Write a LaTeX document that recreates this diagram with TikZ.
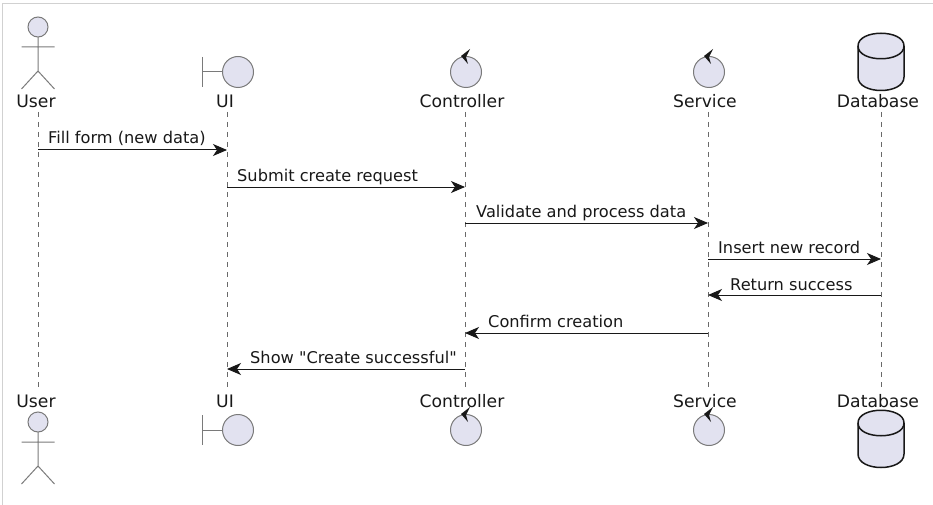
\documentclass[tikz,border=0pt]{standalone}
\usepackage{fontspec}
\setmainfont{DejaVu Sans}[Ligatures=TeXOff]
\usetikzlibrary{arrows.meta}
\definecolor{partfill}{HTML}{E2E2F0}
\definecolor{partline}{HTML}{7A7A7A}
\definecolor{inkline}{HTML}{181818}
\tikzset{
  lifeline/.style={draw=inkline!65, line width=0.5pt, dash pattern=on 5pt off 5pt},
  msg/.style={draw=inkline, line width=1pt, -{Stealth[length=14pt,width=12pt,inset=4pt]}},
  msgtext/.style={anchor=base west, inner sep=0pt, font=\fontsize{16.2}{19}\selectfont, text=inkline},
  parttext/.style={anchor=base, inner sep=0pt, font=\fontsize{17.2}{20}\selectfont, text=inkline},
  partline/.style={draw=partline, line width=1pt},
  ball/.style={circle, draw=partline, fill=partfill, line width=1pt, inner sep=0pt, minimum size=31pt},
  % the glyphs, all drawn around the centre of their figure
  pics/actor/.style={code={
    \draw[partline] (0,10) -- (0,34) (-16.5,20) -- (16.5,20) (-16.5,62) -- (0,44) -- (16.5,62) (0,10) -- (0,44);
    \node[ball, minimum size=20pt] at (0,0) {};
  }},
  pics/boundary/.style={code={
    \draw[partline] (-36,-15) -- (-36,15) (-36,0) -- (-15,0);
    \node[ball] at (0,0) {};
  }},
  pics/control/.style={code={
    \node[ball] at (0,0) {};
    \fill[inkline] (4,-23) -- (-5,-16) -- (2,-8) -- (0,-15) -- cycle;
  }},
  pics/database/.style={code={
    \draw[draw=inkline, fill=partfill, line width=1.5pt] (-23,-15) .. controls (-23,-32) and (23,-32) .. (23,-15)
      -- (23,16) .. controls (23,34) and (-23,34) .. (-23,16) -- cycle;
    \draw[draw=inkline, line width=1.5pt] (-23,-15) .. controls (-23,2) and (23,2) .. (23,-15);
  }},
}
\begin{document}
\begin{tikzpicture}[x=1pt, y=-1pt]
  \useasboundingbox (0,0) rectangle (933,505);
  % frame
  \draw[draw=black!18, line width=1pt] (2.5,505) -- (2.5,3.5) -- (933,3.5);

  % lifeline ends
  \coordinate (user_top) at (38,112);
  \coordinate (user_bot) at (38,390);
  \coordinate (ui_top) at (227,112);
  \coordinate (ui_bot) at (227,390);
  \coordinate (controller_top) at (465,112);
  \coordinate (controller_bot) at (465,390);
  \coordinate (service_top) at (708,112);
  \coordinate (service_bot) at (708,390);
  \coordinate (database_top) at (881,112);
  \coordinate (database_bot) at (881,390);

  \draw[lifeline] (user_top) -- (user_bot);
  \draw[lifeline] (ui_top) -- (ui_bot);
  \draw[lifeline] (controller_top) -- (controller_bot);
  \draw[lifeline] (service_top) -- (service_bot);
  \draw[lifeline] (database_top) -- (database_bot);

  % participants, top row
  \pic at (38,27) {actor};
  \pic at (238,72) {boundary};
  \pic at (466,72) {control};
  \pic at (709,72) {control};
  \pic at (881,61) {database};
  \node[parttext] (user_label) at (36,108) {User};
  \node[parttext] (ui_label) at (225,108) {UI};
  \node[parttext] (controller_label) at (462,108) {Controller};
  \node[parttext] (service_label) at (705,108) {Service};
  \node[parttext] (database_label) at (878,108) {Database};

  % participants, bottom row
  \pic at (38,422) {actor};
  \pic at (238,430) {boundary};
  \pic at (466,430) {control};
  \pic at (709,430) {control};
  \pic at (881,438) {database};
  \node[parttext] (user_label2) at (36,407) {User};
  \node[parttext] (ui_label2) at (225,407) {UI};
  \node[parttext] (controller_label2) at (462,407) {Controller};
  \node[parttext] (service_label2) at (705,407) {Service};
  \node[parttext] (database_label2) at (878,407) {Database};

  % messages
  \coordinate (fill_a) at (38,150);
  \coordinate (fill_b) at (227,150);
  \draw[msg] (fill_a) -- (fill_b);
  \node[msgtext] (fill_text) at (48,144) {Fill form (new data)};

  \coordinate (submit_a) at (227,187);
  \coordinate (submit_b) at (465,187);
  \draw[msg] (submit_a) -- (submit_b);
  \node[msgtext] (submit_text) at (237,181) {Submit create request};

  \coordinate (validate_a) at (465,223);
  \coordinate (validate_b) at (708,223);
  \draw[msg] (validate_a) -- (validate_b);
  \node[msgtext] (validate_text) at (476,217) {Validate and process data};

  \coordinate (insert_a) at (708,259);
  \coordinate (insert_b) at (881,259);
  \draw[msg] (insert_a) -- (insert_b);
  \node[msgtext] (insert_text) at (718,253) {Insert new record};

  \coordinate (return_a) at (881,295);
  \coordinate (return_b) at (708,295);
  \draw[msg] (return_a) -- (return_b);
  \node[msgtext] (return_text) at (730,290) {Return success};

  \coordinate (confirm_a) at (708,333);
  \coordinate (confirm_b) at (465,333);
  \draw[msg] (confirm_a) -- (confirm_b);
  \node[msgtext] (confirm_text) at (488,327) {Confirm creation};

  \coordinate (show_a) at (465,369);
  \coordinate (show_b) at (227,369);
  \draw[msg] (show_a) -- (show_b);
  \node[msgtext] (show_text) at (250,363) {Show "Create successful"};
\end{tikzpicture}
\end{document}
